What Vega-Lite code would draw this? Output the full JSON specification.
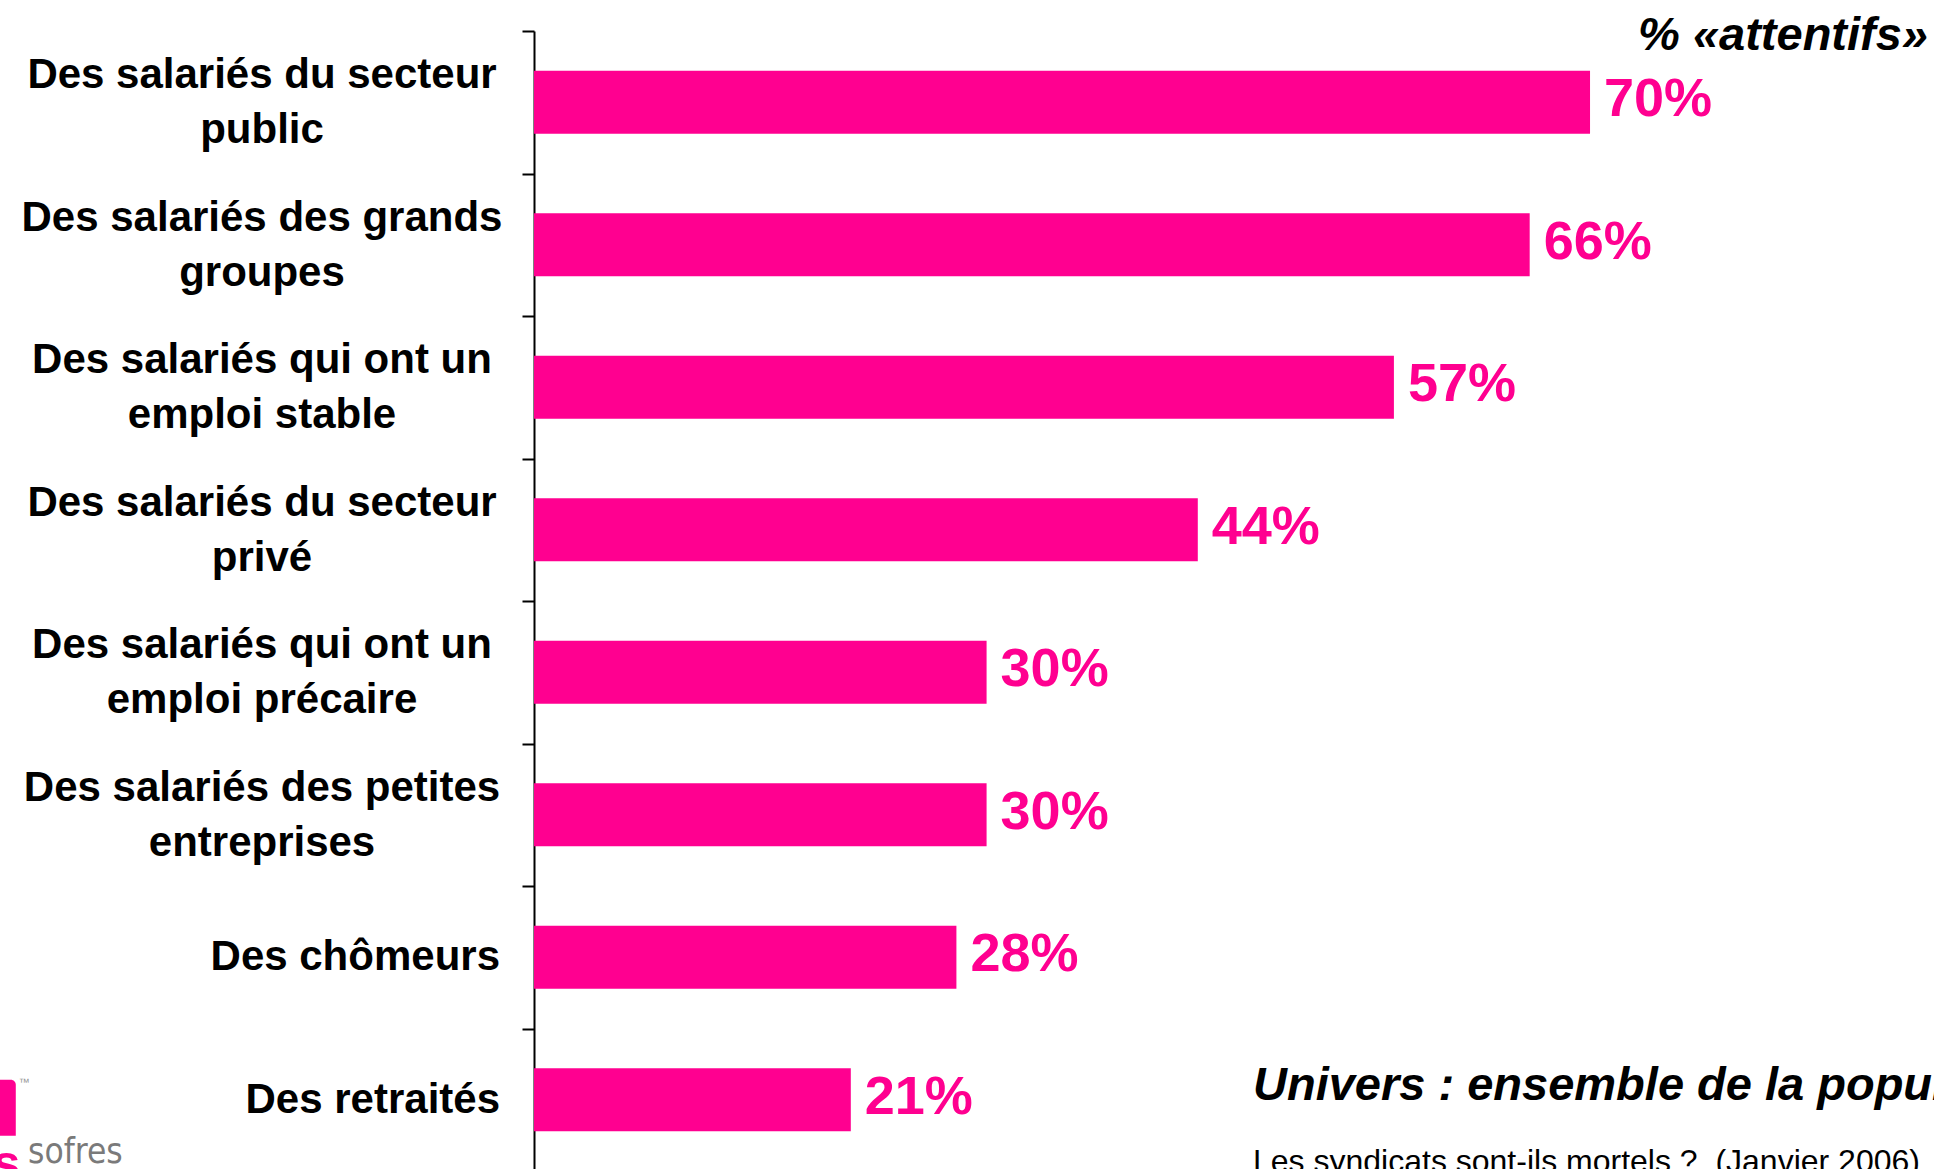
{
  "$schema": "https://vega.github.io/schema/vega-lite/v6.json",
  "width": 1400,
  "height": 1140,
  "autosize": {"type": "none"},
  "padding": {"left": 534, "top": 31, "right": 0, "bottom": 0},
  "background": "white",
  "config": {"view": {"stroke": null}},
  "data": {
    "values": [
      {"cat": "Des salariés du secteur public", "lines": ["Des salariés du secteur", "public"], "value": 0.70},
      {"cat": "Des salariés des grands groupes", "lines": ["Des salariés des grands", "groupes"], "value": 0.66},
      {"cat": "Des salariés qui ont un emploi stable", "lines": ["Des salariés qui ont un", "emploi stable"], "value": 0.57},
      {"cat": "Des salariés du secteur privé", "lines": ["Des salariés du secteur", "privé"], "value": 0.44},
      {"cat": "Des salariés qui ont un emploi précaire", "lines": ["Des salariés qui ont un", "emploi précaire"], "value": 0.30},
      {"cat": "Des salariés des petites entreprises", "lines": ["Des salariés des petites", "entreprises"], "value": 0.30},
      {"cat": "Des chômeurs", "lines": ["Des chômeurs"], "value": 0.28},
      {"cat": "Des retraités", "lines": ["Des retraités"], "value": 0.21}
    ]
  },
  "layer": [
    {
      "mark": {"type": "bar", "size": 63, "color": "#ff0090"},
      "encoding": {
        "y": {
          "field": "cat",
          "type": "nominal",
          "sort": null,
          "scale": {
            "domain": [
              "Des salariés du secteur public",
              "Des salariés des grands groupes",
              "Des salariés qui ont un emploi stable",
              "Des salariés du secteur privé",
              "Des salariés qui ont un emploi précaire",
              "Des salariés des petites entreprises",
              "Des chômeurs",
              "Des retraités"
            ],
            "paddingInner": 0,
            "paddingOuter": 0
          },
          "axis": {
            "title": null,
            "grid": false,
            "labels": false,
            "domainColor": "black",
            "domainWidth": 2,
            "tickColor": "black",
            "tickWidth": 2,
            "tickSize": 12,
            "tickBand": "extent"
          }
        },
        "x": {
          "field": "value",
          "type": "quantitative",
          "scale": {"domain": [0, 0.928], "nice": false, "zero": false},
          "axis": null
        }
      }
    },
    {
      "mark": {
        "type": "text",
        "align": "left",
        "baseline": "middle",
        "dx": 14,
        "dy": -2,
        "font": "Liberation Sans",
        "fontWeight": "bold",
        "fontSize": 54,
        "color": "#ff0090"
      },
      "encoding": {
        "y": {"field": "cat", "type": "nominal", "sort": null},
        "x": {"field": "value", "type": "quantitative"},
        "text": {"field": "value", "format": ".0%"}
      }
    },
    {
      "transform": [{"filter": "indexof(datum.cat, 'salariés') >= 0"}],
      "mark": {
        "type": "text",
        "align": "center",
        "baseline": "middle",
        "dx": -272,
        "dy": -27,
        "lineHeight": 55,
        "font": "Liberation Sans",
        "fontWeight": "bold",
        "fontSize": 42,
        "color": "black"
      },
      "encoding": {
        "y": {"field": "cat", "type": "nominal", "sort": null},
        "x": {"datum": 0},
        "text": {"field": "lines"}
      }
    },
    {
      "transform": [{"filter": "indexof(datum.cat, 'salariés') < 0"}],
      "mark": {
        "type": "text",
        "align": "right",
        "baseline": "middle",
        "dx": -34,
        "font": "Liberation Sans",
        "fontWeight": "bold",
        "fontSize": 42,
        "color": "black"
      },
      "encoding": {
        "y": {"field": "cat", "type": "nominal", "sort": null},
        "x": {"datum": 0},
        "text": {"field": "cat"}
      }
    },
    {
      "data": {"values": [{"t": "% «attentifs»"}]},
      "mark": {
        "type": "text",
        "align": "right",
        "baseline": "alphabetic",
        "dx": -6,
        "dy": -52,
        "font": "Liberation Sans",
        "fontWeight": "bold",
        "fontStyle": "italic",
        "fontSize": 47,
        "color": "black"
      },
      "encoding": {
        "x": {"datum": 0.928},
        "y": {"datum": "Des salariés du secteur public"},
        "text": {"field": "t"}
      }
    },
    {
      "data": {"values": [{"t": "Univers : ensemble de la population"}]},
      "mark": {
        "type": "text",
        "align": "left",
        "baseline": "alphabetic",
        "font": "Liberation Sans",
        "fontWeight": "bold",
        "fontStyle": "italic",
        "fontSize": 47,
        "color": "black"
      },
      "encoding": {
        "x": {"datum": 0.4766},
        "y": {"datum": "Des retraités"},
        "text": {"field": "t"}
      }
    },
    {
      "data": {"values": [{"t": "Les syndicats sont-ils mortels ?\u00a0 (Janvier 2006)"}]},
      "mark": {
        "type": "text",
        "align": "left",
        "baseline": "alphabetic",
        "dy": 72,
        "font": "Liberation Sans",
        "fontSize": 32,
        "color": "black"
      },
      "encoding": {
        "x": {"datum": 0.4766},
        "y": {"datum": "Des retraités"},
        "text": {"field": "t"}
      }
    },
    {
      "data": {"values": [{"t": "logo"}]},
      "mark": {"type": "bar", "size": 56, "color": "#ff0090", "cornerRadiusTopRight": 5, "yOffset": 8},
      "encoding": {
        "x": {"datum": -0.354},
        "x2": {"datum": -0.3435},
        "y": {"datum": "Des retraités"}
      }
    },
    {
      "data": {"values": [{"t": "s"}]},
      "mark": {
        "type": "text",
        "align": "right",
        "baseline": "alphabetic",
        "dy": 80,
        "font": "Liberation Sans",
        "fontWeight": "bold",
        "fontSize": 50,
        "color": "#ff0090"
      },
      "encoding": {
        "x": {"datum": -0.3405},
        "y": {"datum": "Des retraités"},
        "text": {"field": "t"}
      }
    },
    {
      "data": {"values": [{"t": "™"}]},
      "mark": {
        "type": "text",
        "align": "left",
        "baseline": "middle",
        "dy": -17,
        "font": "Liberation Sans",
        "fontSize": 11,
        "color": "#909090"
      },
      "encoding": {
        "x": {"datum": -0.3415},
        "y": {"datum": "Des retraités"},
        "text": {"field": "t"}
      }
    },
    {
      "data": {"values": [{"t": "sofres"}]},
      "mark": {
        "type": "text",
        "align": "left",
        "baseline": "alphabetic",
        "dy": 63,
        "font": "Liberation Sans Narrow, DejaVu Sans Condensed, Roboto",
        "fontSize": 35,
        "color": "#7a7a7a"
      },
      "encoding": {
        "x": {"datum": -0.3354},
        "y": {"datum": "Des retraités"},
        "text": {"field": "t"}
      }
    }
  ]
}
